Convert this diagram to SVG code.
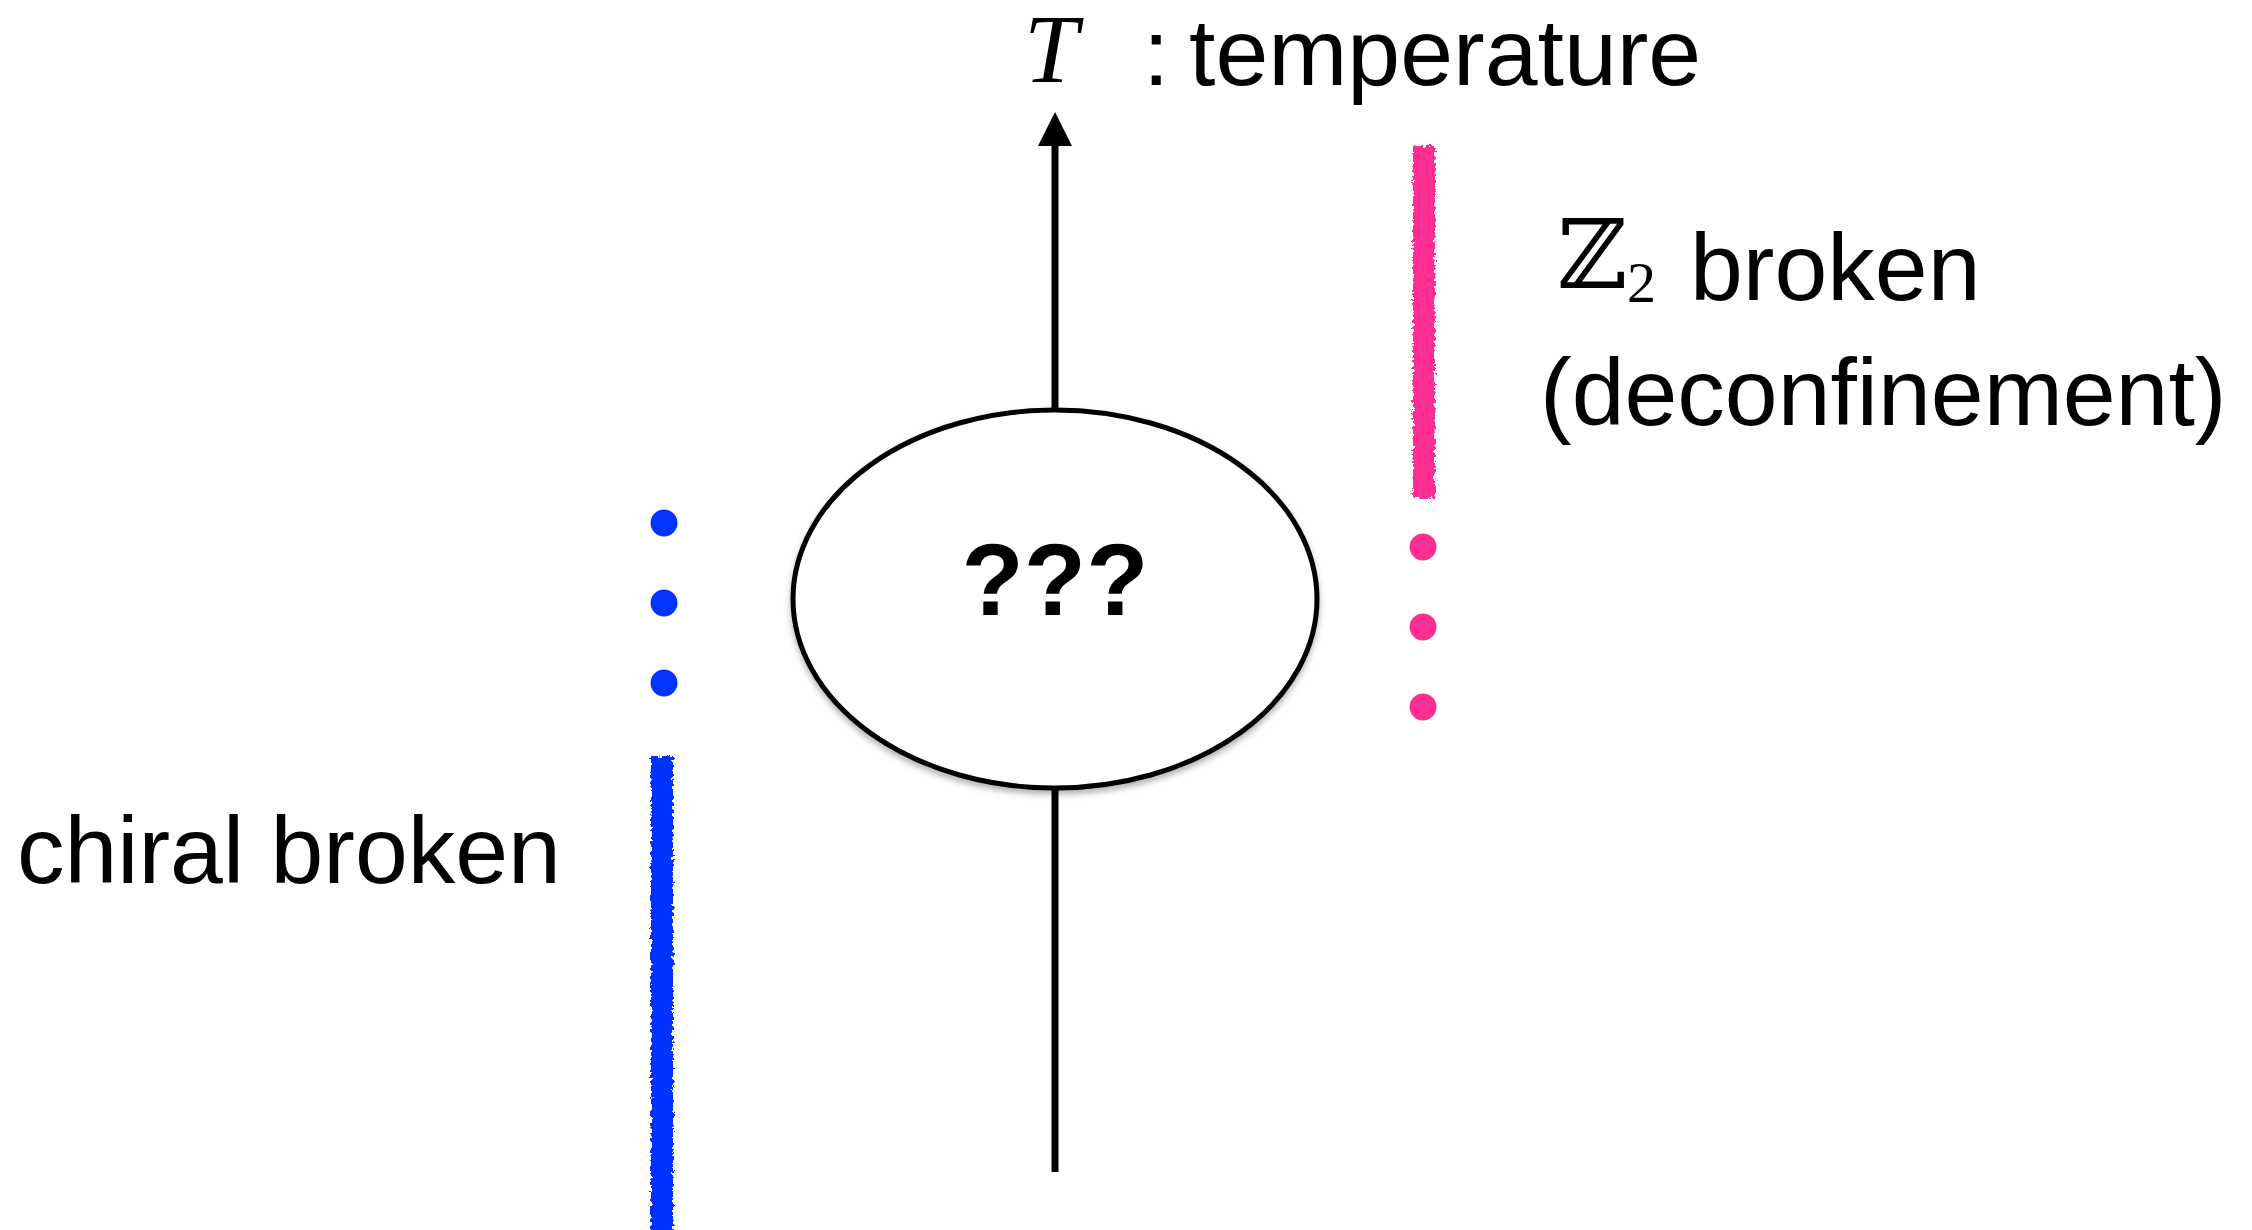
<svg xmlns="http://www.w3.org/2000/svg" width="2252" height="1230" viewBox="0 0 2252 1230">
  <style>
    .lbl { font-family: "Liberation Sans", Arial, Helvetica, sans-serif; font-size: 95px; fill: #000; }
    .math { font-family: "Liberation Serif", "Times New Roman", serif; fill: #000; }
    .axis { stroke: #000; stroke-width: 7; fill: none; }
    .blue { fill: #0433FF; }
    .pink { fill: #FF2F92; }
  </style>
  <defs>
    <marker id="arrowhead" markerUnits="userSpaceOnUse" markerWidth="34" markerHeight="34" refX="6" refY="17" orient="auto" viewBox="0 0 34 34">
      <path d="M0,0 L34,17 L0,34 Z" fill="#000"/>
    </marker>
    <filter id="crayon" x="-100%" y="-5%" width="300%" height="110%">
      <feTurbulence type="fractalNoise" baseFrequency="0.3" numOctaves="2" seed="7" result="noise"/>
      <feDisplacementMap in="SourceGraphic" in2="noise" scale="7" xChannelSelector="R" yChannelSelector="G"/>
    </filter>
    <filter id="shadow" x="-10%" y="-10%" width="120%" height="125%">
      <feDropShadow dx="0" dy="4" stdDeviation="3" flood-color="#000" flood-opacity="0.3"/>
    </filter>
  </defs>
  <rect width="2252" height="1230" fill="#fff"/>

  <g id="connectors">
    <line class="axis" x1="1055" y1="1172" x2="1055" y2="790"/>
    <line class="axis" x1="1055" y1="410" x2="1055" y2="140" marker-end="url(#arrowhead)"/>
  </g>

  <g id="axis-label">
    <text class="math" x="1024" y="82" font-size="97" font-style="italic">T</text>
    <text class="lbl" x="1143" y="85">:</text>
    <text class="lbl" x="1189" y="85">temperature</text>
  </g>

  <g id="node-unknown">
    <ellipse cx="1055" cy="599" rx="262" ry="189" fill="#fff" stroke="#000" stroke-width="5" filter="url(#shadow)"/>
    <text x="1055" y="615" text-anchor="middle" font-family="Liberation Sans, Arial, Helvetica, sans-serif" font-weight="bold" font-size="102">???</text>
  </g>

  <g id="node-z2-broken">
    <rect class="pink" x="1413" y="146" width="22" height="352" filter="url(#crayon)"/>
    <circle class="pink" cx="1423" cy="547" r="13.5"/>
    <circle class="pink" cx="1423" cy="627" r="13.5"/>
    <circle class="pink" cx="1423" cy="707" r="13.5"/>
    <text x="1557" y="288" font-family="DejaVu Serif, serif" font-size="96">ℤ</text>
    <text class="math" x="1627" y="302" font-size="58">2</text>
    <text class="lbl" x="1690" y="300">broken</text>
    <text class="lbl" x="1540" y="425">(deconfinement)</text>
  </g>

  <g id="node-chiral-broken">
    <circle class="blue" cx="664" cy="523" r="13.5"/>
    <circle class="blue" cx="664" cy="603" r="13.5"/>
    <circle class="blue" cx="664" cy="683" r="13.5"/>
    <rect class="blue" x="651" y="756" width="22" height="480" filter="url(#crayon)"/>
    <text class="lbl" x="17" y="883" font-size="96">chiral broken</text>
  </g>
</svg>
